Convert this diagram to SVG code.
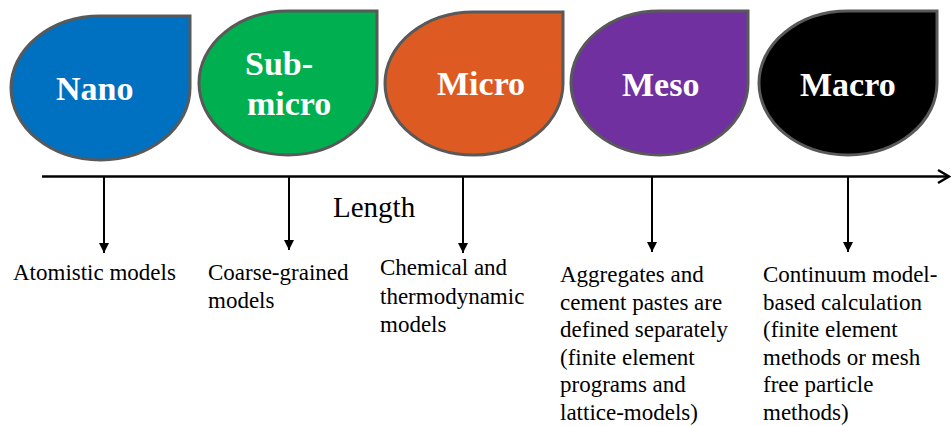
<svg xmlns="http://www.w3.org/2000/svg" width="951" height="426" viewBox="0 0 951 426">
<style>
.shape{stroke:#595959;stroke-width:3}
.lbl{font-family:'Liberation Serif',Tinos,'Times New Roman',Times,'DejaVu Serif',serif;font-weight:bold;font-size:34px;fill:#fff}
.txt{font-family:'Liberation Serif',Tinos,'Times New Roman',Times,'DejaVu Serif',serif;font-size:23px;fill:#000}
.axis{stroke:#000;stroke-width:2.5;fill:none}
.tick{stroke:#000;stroke-width:2;fill:none}
</style>
<defs>
<marker id="tri" markerWidth="10" markerHeight="10" viewBox="0 0 10 10" refX="10" refY="5" orient="auto" markerUnits="userSpaceOnUse">
<path d="M0,0 L10,5 L0,10 Z" fill="#000"/>
</marker>
</defs>
<rect width="951" height="426" fill="#fff"/>
<g id="nano">
<path class="shape" fill="#0070C0" d="M190,16 L190,88 A89.5,72 0 0 1 100.5,160 A89.5,72 0 0 1 11,88 A89.5,72 0 0 1 100.5,16 Z"/>
<text class="lbl" x="56" y="100">Nano</text>
</g>
<g id="submicro">
<path class="shape" fill="#00B050" d="M377,11 L377,83 A89,72 0 0 1 288,155 A89,72 0 0 1 199,83 A89,72 0 0 1 288,11 Z"/>
<text class="lbl" x="245" y="75">Sub-</text>
<text class="lbl" x="247" y="115">micro</text>
</g>
<g id="micro">
<path class="shape" fill="#DD5B23" d="M563,12 L563,83.5 A89,71.5 0 0 1 474,155 A89,71.5 0 0 1 385,83.5 A89,71.5 0 0 1 474,12 Z"/>
<text class="lbl" x="437" y="95">Micro</text>
</g>
<g id="meso">
<path class="shape" fill="#7030A0" d="M748,11 L748,83 A88.5,72 0 0 1 659.5,155 A88.5,72 0 0 1 571,83 A88.5,72 0 0 1 659.5,11 Z"/>
<text class="lbl" x="622" y="96">Meso</text>
</g>
<g id="macro">
<path class="shape" fill="#000000" d="M937,11 L937,83 A89,72 0 0 1 848,155 A89,72 0 0 1 759,83 A89,72 0 0 1 848,11 Z"/>
<text class="lbl" x="800" y="96">Macro</text>
</g>
<g id="connectors">
<line class="axis" x1="42" y1="176.5" x2="948" y2="176.5"/>
<polyline class="axis" points="938,170 949,176.5 938,183"/>
<line class="tick" x1="104" y1="177" x2="104" y2="253" marker-end="url(#tri)"/>
<line class="tick" x1="289" y1="177" x2="289" y2="250" marker-end="url(#tri)"/>
<line class="tick" x1="463" y1="177" x2="463" y2="253" marker-end="url(#tri)"/>
<line class="tick" x1="652" y1="177" x2="652" y2="252" marker-end="url(#tri)"/>
<line class="tick" x1="848" y1="177" x2="848" y2="252" marker-end="url(#tri)"/>
</g>
<g id="axis-label">
<text class="txt" x="333" y="217" style="font-size:29px">Length</text>
</g>
<g id="desc-nano">
<text class="txt" x="13" y="280">Atomistic models</text>
</g>
<g id="desc-submicro">
<text class="txt" x="208" y="280">Coarse-grained<tspan x="208" dy="27.5">models</tspan></text>
</g>
<g id="desc-micro">
<text class="txt" x="380" y="275">Chemical and<tspan x="380" dy="28.5">thermodynamic</tspan><tspan x="380" dy="28.5">models</tspan></text>
</g>
<g id="desc-meso">
<text class="txt" x="560" y="282">Aggregates and<tspan x="560" dy="27.6">cement pastes are</tspan><tspan x="560" dy="27.6">defined separately</tspan><tspan x="560" dy="27.6">(finite element</tspan><tspan x="560" dy="27.6">programs and</tspan><tspan x="560" dy="27.6">lattice-models)</tspan></text>
</g>
<g id="desc-macro">
<text class="txt" x="763" y="282">Continuum model-<tspan x="763" dy="27.6">based calculation</tspan><tspan x="763" dy="27.6">(finite element</tspan><tspan x="763" dy="27.6">methods or mesh</tspan><tspan x="763" dy="27.6">free particle</tspan><tspan x="763" dy="27.6">methods)</tspan></text>
</g>
</svg>
